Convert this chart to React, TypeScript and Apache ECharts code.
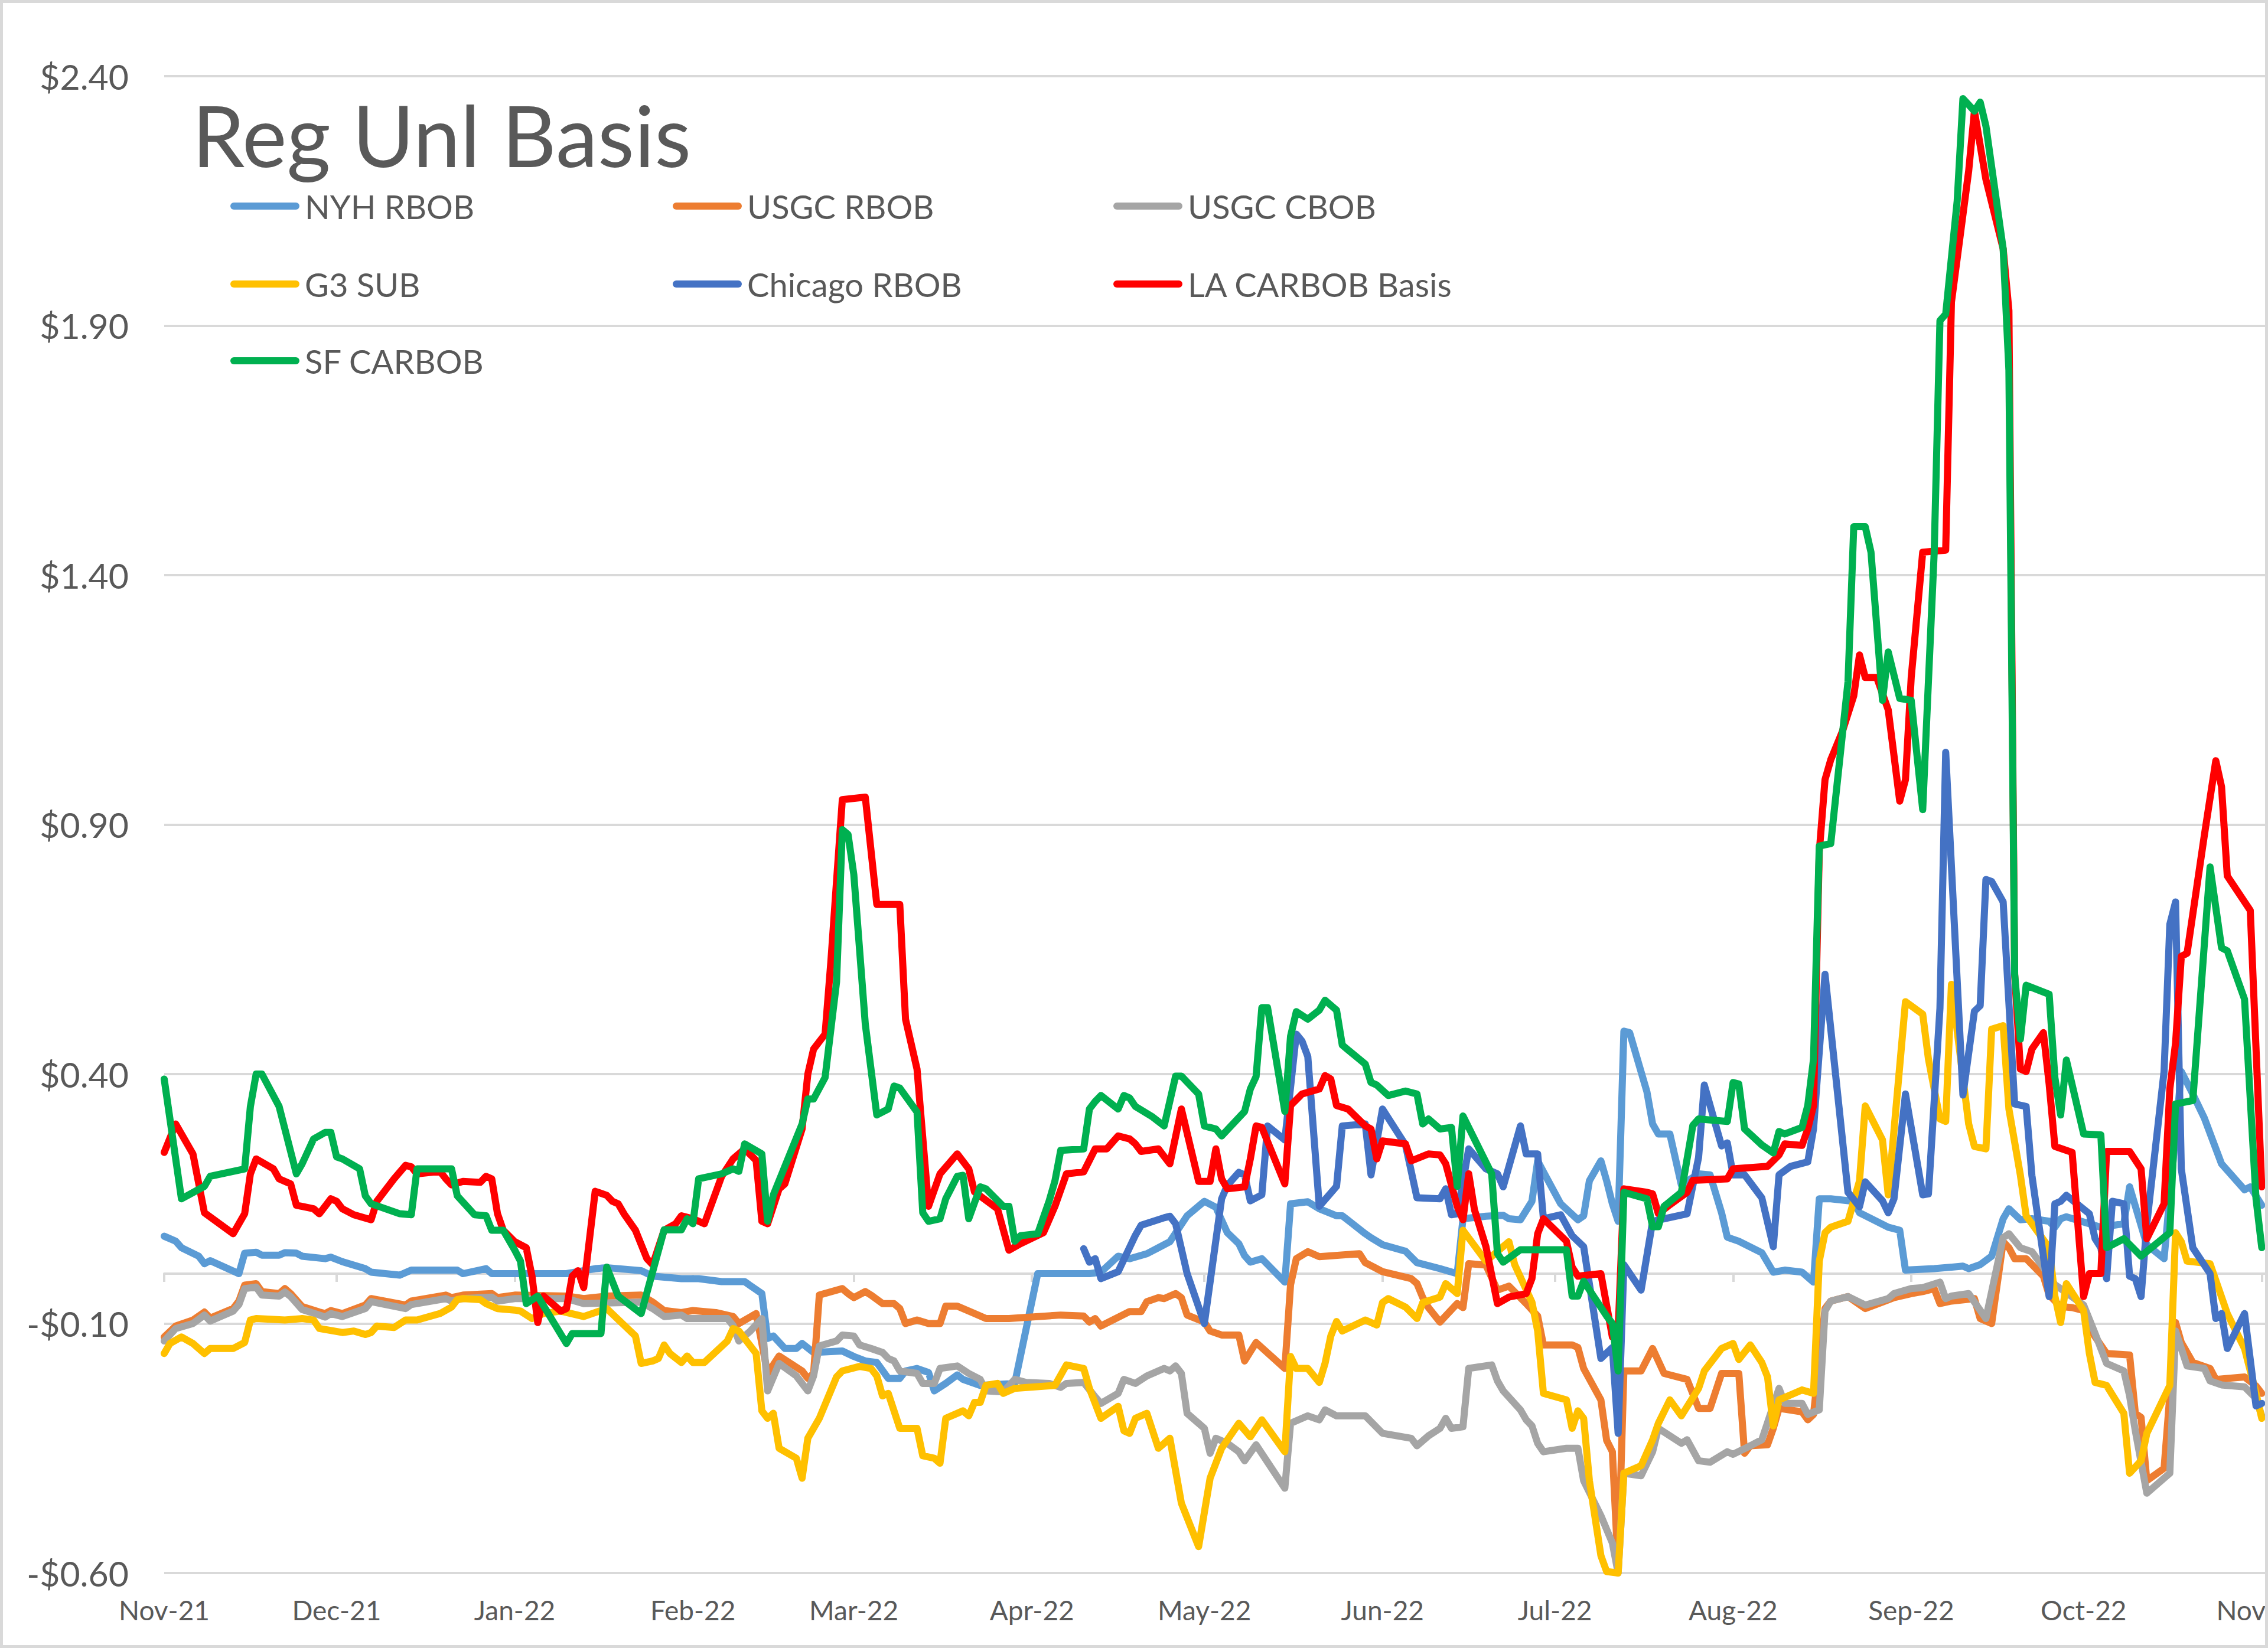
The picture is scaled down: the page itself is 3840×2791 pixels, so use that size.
import React, { useEffect, useRef } from "react";
import * as echarts from "echarts";

type Pt = [string, number];

const TITLE = "Reg Unl Basis";
const MONTH_NAMES = ["Jan", "Feb", "Mar", "Apr", "May", "Jun", "Jul", "Aug", "Sep", "Oct", "Nov", "Dec"];
const MONTH_TICKS = [
  "2021-11-01", "2021-12-01", "2022-01-01", "2022-02-01", "2022-03-01", "2022-04-01", "2022-05-01",
  "2022-06-01", "2022-07-01", "2022-08-01", "2022-09-01", "2022-10-01", "2022-11-01",
];
const X_MIN = "2021-11-01";
const X_MAX = "2022-11-10";
const Y_MIN = -0.6;
const Y_MAX = 2.4;
const Y_STEP = 0.5;

const nyhRbob: Pt[] = [
  ["2021-11-01", 0.075], ["2021-11-03", 0.065], ["2021-11-04", 0.052], ["2021-11-07", 0.035], ["2021-11-08", 0.02],
  ["2021-11-09", 0.026], ["2021-11-14", 0.0], ["2021-11-15", 0.041], ["2021-11-17", 0.043], ["2021-11-18", 0.037],
  ["2021-11-21", 0.037], ["2021-11-22", 0.042], ["2021-11-24", 0.041], ["2021-11-25", 0.035], ["2021-11-29", 0.03],
  ["2021-11-30", 0.033], ["2021-12-02", 0.024], ["2021-12-06", 0.01], ["2021-12-07", 0.003], ["2021-12-12", -0.003],
  ["2021-12-14", 0.007], ["2021-12-22", 0.007], ["2021-12-23", 0.0], ["2021-12-27", 0.01], ["2021-12-28", 0.0],
  ["2022-01-10", 0.0], ["2022-01-15", 0.01], ["2022-01-17", 0.012], ["2022-01-20", 0.009], ["2022-01-23", 0.006],
  ["2022-01-25", -0.005], ["2022-01-30", -0.01], ["2022-02-02", -0.01], ["2022-02-06", -0.016], ["2022-02-10", -0.016],
  ["2022-02-13", -0.04], ["2022-02-14", -0.13], ["2022-02-15", -0.125], ["2022-02-17", -0.15], ["2022-02-19", -0.15],
  ["2022-02-20", -0.14], ["2022-02-22", -0.158], ["2022-02-27", -0.155], ["2022-03-01", -0.166], ["2022-03-03", -0.175],
  ["2022-03-05", -0.178], ["2022-03-07", -0.21], ["2022-03-09", -0.21], ["2022-03-10", -0.195], ["2022-03-12", -0.19],
  ["2022-03-14", -0.198], ["2022-03-15", -0.235], ["2022-03-17", -0.22], ["2022-03-19", -0.203], ["2022-03-20", -0.212],
  ["2022-03-23", -0.224], ["2022-03-29", -0.22], ["2022-04-02", 0.0], ["2022-04-11", 0.0], ["2022-04-13", 0.003],
  ["2022-04-16", 0.035], ["2022-04-18", 0.03], ["2022-04-21", 0.04], ["2022-04-23", 0.052], ["2022-04-25", 0.064],
  ["2022-04-28", 0.116], ["2022-05-01", 0.145], ["2022-05-03", 0.133], ["2022-05-05", 0.082], ["2022-05-07", 0.06],
  ["2022-05-08", 0.036], ["2022-05-09", 0.023], ["2022-05-11", 0.03], ["2022-05-15", -0.017], ["2022-05-16", 0.14],
  ["2022-05-19", 0.144], ["2022-05-21", 0.13], ["2022-05-24", 0.116], ["2022-05-25", 0.116], ["2022-05-29", 0.08],
  ["2022-05-30", 0.072], ["2022-06-01", 0.058], ["2022-06-05", 0.045], ["2022-06-07", 0.022], ["2022-06-11", 0.01],
  ["2022-06-14", 0.0], ["2022-06-15", 0.11], ["2022-06-19", 0.115], ["2022-06-22", 0.117], ["2022-06-23", 0.11],
  ["2022-06-25", 0.108], ["2022-06-27", 0.145], ["2022-06-28", 0.226], ["2022-06-29", 0.204], ["2022-07-02", 0.14],
  ["2022-07-05", 0.108], ["2022-07-06", 0.116], ["2022-07-07", 0.186], ["2022-07-09", 0.226], ["2022-07-10", 0.186],
  ["2022-07-11", 0.14], ["2022-07-12", 0.105], ["2022-07-13", 0.486], ["2022-07-14", 0.483], ["2022-07-17", 0.365],
  ["2022-07-18", 0.3], ["2022-07-19", 0.28], ["2022-07-21", 0.28], ["2022-07-23", 0.178], ["2022-07-26", 0.2],
  ["2022-07-28", 0.198], ["2022-07-30", 0.122], ["2022-07-31", 0.073], ["2022-08-02", 0.065], ["2022-08-06", 0.042],
  ["2022-08-08", 0.003], ["2022-08-10", 0.007], ["2022-08-13", 0.003], ["2022-08-15", -0.017], ["2022-08-16", 0.15],
  ["2022-08-18", 0.15], ["2022-08-22", 0.145], ["2022-08-23", 0.122], ["2022-08-28", 0.093], ["2022-08-30", 0.087],
  ["2022-08-31", 0.007], ["2022-09-05", 0.01], ["2022-09-10", 0.015], ["2022-09-11", 0.01], ["2022-09-13", 0.018],
  ["2022-09-15", 0.035], ["2022-09-17", 0.11], ["2022-09-18", 0.13], ["2022-09-20", 0.108], ["2022-09-22", 0.11],
  ["2022-09-25", 0.105], ["2022-09-26", 0.093], ["2022-09-27", 0.11], ["2022-09-28", 0.114], ["2022-10-02", 0.1],
  ["2022-10-04", 0.093], ["2022-10-08", 0.1], ["2022-10-09", 0.174], ["2022-10-12", 0.058], ["2022-10-15", 0.03],
  ["2022-10-18", 0.405], ["2022-10-20", 0.36], ["2022-10-22", 0.312], ["2022-10-25", 0.22], ["2022-10-29", 0.168],
  ["2022-10-30", 0.174], ["2022-11-01", 0.137],
];

const usgcRbob: Pt[] = [
  ["2021-11-01", -0.127], ["2021-11-03", -0.105], ["2021-11-06", -0.093], ["2021-11-08", -0.077], ["2021-11-09", -0.089],
  ["2021-11-13", -0.07], ["2021-11-14", -0.055], ["2021-11-15", -0.023], ["2021-11-17", -0.02], ["2021-11-18", -0.036],
  ["2021-11-21", -0.04], ["2021-11-22", -0.03], ["2021-11-23", -0.04], ["2021-11-25", -0.066], ["2021-11-28", -0.077],
  ["2021-11-29", -0.08], ["2021-11-30", -0.074], ["2021-12-02", -0.08], ["2021-12-06", -0.063], ["2021-12-07", -0.05],
  ["2021-12-13", -0.063], ["2021-12-14", -0.055], ["2021-12-20", -0.043], ["2021-12-21", -0.048], ["2021-12-23", -0.043],
  ["2021-12-28", -0.04], ["2021-12-29", -0.048], ["2022-01-01", -0.043], ["2022-01-10", -0.045], ["2022-01-13", -0.05],
  ["2022-01-17", -0.045], ["2022-01-23", -0.043], ["2022-01-25", -0.057], ["2022-01-27", -0.074], ["2022-01-30", -0.078],
  ["2022-02-01", -0.074], ["2022-02-05", -0.078], ["2022-02-08", -0.086], ["2022-02-09", -0.1], ["2022-02-12", -0.08],
  ["2022-02-14", -0.2], ["2022-02-16", -0.165], ["2022-02-20", -0.195], ["2022-02-21", -0.21], ["2022-02-22", -0.2],
  ["2022-02-23", -0.043], ["2022-02-27", -0.03], ["2022-02-28", -0.04], ["2022-03-01", -0.048], ["2022-03-03", -0.036],
  ["2022-03-04", -0.043], ["2022-03-06", -0.06], ["2022-03-08", -0.06], ["2022-03-09", -0.07], ["2022-03-10", -0.1],
  ["2022-03-12", -0.093], ["2022-03-14", -0.1], ["2022-03-16", -0.1], ["2022-03-17", -0.065], ["2022-03-19", -0.065],
  ["2022-03-22", -0.08], ["2022-03-24", -0.09], ["2022-03-28", -0.09], ["2022-04-06", -0.083], ["2022-04-10", -0.085],
  ["2022-04-11", -0.097], ["2022-04-12", -0.09], ["2022-04-13", -0.105], ["2022-04-18", -0.076], ["2022-04-20", -0.076],
  ["2022-04-21", -0.056], ["2022-04-23", -0.048], ["2022-04-24", -0.05], ["2022-04-26", -0.04], ["2022-04-27", -0.048],
  ["2022-04-28", -0.083], ["2022-05-01", -0.097], ["2022-05-02", -0.115], ["2022-05-04", -0.123], ["2022-05-07", -0.123],
  ["2022-05-08", -0.175], ["2022-05-10", -0.138], ["2022-05-15", -0.19], ["2022-05-16", -0.022], ["2022-05-17", 0.03],
  ["2022-05-19", 0.044], ["2022-05-21", 0.034], ["2022-05-28", 0.04], ["2022-05-29", 0.022], ["2022-06-01", 0.004],
  ["2022-06-06", -0.01], ["2022-06-07", -0.02], ["2022-06-08", -0.048], ["2022-06-09", -0.068], ["2022-06-11", -0.097],
  ["2022-06-14", -0.06], ["2022-06-15", -0.068], ["2022-06-16", 0.02], ["2022-06-19", 0.017], ["2022-06-21", -0.033],
  ["2022-06-23", -0.025], ["2022-06-26", -0.06], ["2022-06-28", -0.085], ["2022-06-29", -0.143], ["2022-07-04", -0.143],
  ["2022-07-05", -0.148], ["2022-07-06", -0.19], ["2022-07-09", -0.253], ["2022-07-10", -0.334], ["2022-07-11", -0.357],
  ["2022-07-12", -0.59], ["2022-07-13", -0.195], ["2022-07-16", -0.195], ["2022-07-18", -0.15], ["2022-07-20", -0.2],
  ["2022-07-24", -0.212], ["2022-07-26", -0.27], ["2022-07-28", -0.27], ["2022-07-30", -0.2], ["2022-08-02", -0.2],
  ["2022-08-03", -0.36], ["2022-08-04", -0.345], ["2022-08-07", -0.343], ["2022-08-08", -0.31], ["2022-08-09", -0.27],
  ["2022-08-13", -0.277], ["2022-08-14", -0.293], ["2022-08-15", -0.282], ["2022-08-17", -0.07], ["2022-08-18", -0.055],
  ["2022-08-21", -0.046], ["2022-08-24", -0.07], ["2022-08-27", -0.057], ["2022-08-29", -0.048], ["2022-09-01", -0.04],
  ["2022-09-03", -0.036], ["2022-09-05", -0.03], ["2022-09-06", -0.06], ["2022-09-08", -0.055], ["2022-09-12", -0.05],
  ["2022-09-13", -0.09], ["2022-09-15", -0.1], ["2022-09-17", 0.064], ["2022-09-18", 0.052], ["2022-09-19", 0.03],
  ["2022-09-21", 0.03], ["2022-09-24", -0.005], ["2022-09-25", -0.043], ["2022-09-27", -0.066], ["2022-09-29", -0.068],
  ["2022-10-01", -0.074], ["2022-10-02", -0.11], ["2022-10-05", -0.16], ["2022-10-09", -0.163], ["2022-10-10", -0.28],
  ["2022-10-11", -0.288], ["2022-10-12", -0.415], ["2022-10-15", -0.39], ["2022-10-17", -0.098], ["2022-10-18", -0.138],
  ["2022-10-20", -0.178], ["2022-10-23", -0.19], ["2022-10-24", -0.212], ["2022-10-29", -0.207], ["2022-10-31", -0.225],
  ["2022-11-01", -0.24],
];

const usgcCbob: Pt[] = [
  ["2021-11-01", -0.135], ["2021-11-03", -0.11], ["2021-11-06", -0.1], ["2021-11-08", -0.083], ["2021-11-09", -0.095],
  ["2021-11-13", -0.075], ["2021-11-14", -0.062], ["2021-11-15", -0.03], ["2021-11-17", -0.027], ["2021-11-18", -0.043],
  ["2021-11-21", -0.045], ["2021-11-22", -0.037], ["2021-11-23", -0.046], ["2021-11-25", -0.072], ["2021-11-28", -0.083],
  ["2021-11-29", -0.087], ["2021-11-30", -0.08], ["2021-12-02", -0.086], ["2021-12-06", -0.07], ["2021-12-07", -0.056],
  ["2021-12-13", -0.07], ["2021-12-14", -0.062], ["2021-12-20", -0.05], ["2021-12-21", -0.055], ["2021-12-23", -0.05],
  ["2021-12-28", -0.047], ["2021-12-29", -0.055], ["2022-01-01", -0.05], ["2022-01-10", -0.05], ["2022-01-13", -0.06],
  ["2022-01-23", -0.057], ["2022-01-25", -0.07], ["2022-01-27", -0.086], ["2022-01-30", -0.083], ["2022-01-31", -0.09],
  ["2022-02-07", -0.09], ["2022-02-08", -0.104], ["2022-02-09", -0.135], ["2022-02-11", -0.115], ["2022-02-13", -0.09],
  ["2022-02-14", -0.235], ["2022-02-16", -0.18], ["2022-02-19", -0.205], ["2022-02-21", -0.235], ["2022-02-22", -0.205],
  ["2022-02-23", -0.145], ["2022-02-26", -0.135], ["2022-02-27", -0.123], ["2022-03-01", -0.125], ["2022-03-02", -0.143],
  ["2022-03-04", -0.15], ["2022-03-06", -0.158], ["2022-03-07", -0.17], ["2022-03-08", -0.175], ["2022-03-09", -0.195],
  ["2022-03-12", -0.2], ["2022-03-13", -0.22], ["2022-03-15", -0.22], ["2022-03-16", -0.19], ["2022-03-19", -0.185],
  ["2022-03-21", -0.2], ["2022-03-23", -0.212], ["2022-03-24", -0.235], ["2022-03-27", -0.237], ["2022-03-29", -0.212],
  ["2022-03-31", -0.218], ["2022-04-04", -0.22], ["2022-04-06", -0.228], ["2022-04-07", -0.22], ["2022-04-10", -0.218],
  ["2022-04-12", -0.247], ["2022-04-13", -0.26], ["2022-04-16", -0.24], ["2022-04-17", -0.212], ["2022-04-19", -0.22],
  ["2022-04-21", -0.205], ["2022-04-24", -0.19], ["2022-04-25", -0.195], ["2022-04-26", -0.185], ["2022-04-27", -0.2],
  ["2022-04-28", -0.28], ["2022-05-01", -0.31], ["2022-05-02", -0.36], ["2022-05-03", -0.33], ["2022-05-05", -0.34],
  ["2022-05-07", -0.357], ["2022-05-08", -0.375], ["2022-05-10", -0.343], ["2022-05-15", -0.43], ["2022-05-16", -0.3],
  ["2022-05-19", -0.285], ["2022-05-21", -0.293], ["2022-05-22", -0.273], ["2022-05-24", -0.285], ["2022-05-29", -0.285],
  ["2022-06-01", -0.32], ["2022-06-06", -0.33], ["2022-06-07", -0.345], ["2022-06-09", -0.325], ["2022-06-11", -0.31],
  ["2022-06-12", -0.29], ["2022-06-13", -0.31], ["2022-06-15", -0.307], ["2022-06-16", -0.19], ["2022-06-20", -0.183],
  ["2022-06-21", -0.215], ["2022-06-22", -0.235], ["2022-06-25", -0.273], ["2022-06-26", -0.293], ["2022-06-27", -0.305],
  ["2022-06-28", -0.34], ["2022-06-29", -0.357], ["2022-07-03", -0.35], ["2022-07-05", -0.35], ["2022-07-06", -0.415],
  ["2022-07-09", -0.485], ["2022-07-11", -0.54], ["2022-07-12", -0.6], ["2022-07-13", -0.4], ["2022-07-16", -0.405],
  ["2022-07-18", -0.357], ["2022-07-19", -0.31], ["2022-07-23", -0.34], ["2022-07-24", -0.333], ["2022-07-26", -0.375],
  ["2022-07-28", -0.378], ["2022-07-31", -0.357], ["2022-08-01", -0.362], ["2022-08-04", -0.345], ["2022-08-06", -0.333],
  ["2022-08-09", -0.23], ["2022-08-10", -0.26], ["2022-08-13", -0.26], ["2022-08-14", -0.282], ["2022-08-16", -0.273],
  ["2022-08-17", -0.075], ["2022-08-18", -0.055], ["2022-08-21", -0.046], ["2022-08-24", -0.063], ["2022-08-28", -0.05],
  ["2022-08-29", -0.04], ["2022-09-01", -0.03], ["2022-09-03", -0.028], ["2022-09-06", -0.017], ["2022-09-07", -0.05],
  ["2022-09-08", -0.045], ["2022-09-11", -0.04], ["2022-09-12", -0.057], ["2022-09-14", -0.09], ["2022-09-17", 0.072],
  ["2022-09-18", 0.08], ["2022-09-20", 0.052], ["2022-09-22", 0.044], ["2022-09-24", 0.012], ["2022-09-26", -0.022],
  ["2022-10-01", -0.063], ["2022-10-03", -0.12], ["2022-10-05", -0.18], ["2022-10-08", -0.195], ["2022-10-09", -0.245],
  ["2022-10-10", -0.315], ["2022-10-12", -0.44], ["2022-10-16", -0.4], ["2022-10-17", -0.115], ["2022-10-18", -0.15],
  ["2022-10-19", -0.185], ["2022-10-22", -0.19], ["2022-10-23", -0.215], ["2022-10-25", -0.223], ["2022-10-29", -0.227],
  ["2022-10-31", -0.25], ["2022-11-01", -0.285],
];

const g3Sub: Pt[] = [
  ["2021-11-01", -0.16], ["2021-11-02", -0.14], ["2021-11-04", -0.127], ["2021-11-06", -0.14], ["2021-11-08", -0.16],
  ["2021-11-09", -0.15], ["2021-11-13", -0.15], ["2021-11-15", -0.138], ["2021-11-16", -0.093], ["2021-11-17", -0.09],
  ["2021-11-22", -0.093], ["2021-11-25", -0.09], ["2021-11-27", -0.093], ["2021-11-28", -0.11], ["2021-12-02", -0.118],
  ["2021-12-04", -0.115], ["2021-12-06", -0.122], ["2021-12-07", -0.118], ["2021-12-08", -0.105], ["2021-12-11", -0.108],
  ["2021-12-13", -0.093], ["2021-12-15", -0.093], ["2021-12-19", -0.08], ["2021-12-21", -0.067], ["2021-12-22", -0.052],
  ["2021-12-23", -0.05], ["2021-12-26", -0.052], ["2021-12-27", -0.06], ["2021-12-29", -0.07], ["2022-01-01", -0.073],
  ["2022-01-02", -0.075], ["2022-01-04", -0.09], ["2022-01-06", -0.08], ["2022-01-09", -0.075], ["2022-01-13", -0.086],
  ["2022-01-15", -0.078], ["2022-01-17", -0.07], ["2022-01-20", -0.103], ["2022-01-22", -0.125], ["2022-01-23", -0.18],
  ["2022-01-25", -0.175], ["2022-01-26", -0.17], ["2022-01-27", -0.143], ["2022-01-28", -0.16], ["2022-01-30", -0.178],
  ["2022-01-31", -0.165], ["2022-02-01", -0.178], ["2022-02-03", -0.178], ["2022-02-07", -0.135], ["2022-02-08", -0.11],
  ["2022-02-09", -0.115], ["2022-02-10", -0.13], ["2022-02-12", -0.16], ["2022-02-13", -0.275], ["2022-02-14", -0.29],
  ["2022-02-15", -0.28], ["2022-02-16", -0.35], ["2022-02-19", -0.37], ["2022-02-20", -0.41], ["2022-02-21", -0.33],
  ["2022-02-23", -0.29], ["2022-02-26", -0.207], ["2022-02-27", -0.195], ["2022-03-02", -0.186], ["2022-03-04", -0.19],
  ["2022-03-05", -0.205], ["2022-03-06", -0.245], ["2022-03-07", -0.24], ["2022-03-09", -0.31], ["2022-03-12", -0.31],
  ["2022-03-13", -0.365], ["2022-03-15", -0.37], ["2022-03-16", -0.38], ["2022-03-17", -0.29], ["2022-03-20", -0.275],
  ["2022-03-21", -0.285], ["2022-03-22", -0.258], ["2022-03-23", -0.258], ["2022-03-24", -0.224], ["2022-03-26", -0.22],
  ["2022-03-27", -0.24], ["2022-03-29", -0.23], ["2022-04-05", -0.224], ["2022-04-07", -0.183], ["2022-04-10", -0.19],
  ["2022-04-11", -0.23], ["2022-04-13", -0.29], ["2022-04-16", -0.266], ["2022-04-17", -0.315], ["2022-04-18", -0.32],
  ["2022-04-19", -0.29], ["2022-04-21", -0.28], ["2022-04-23", -0.35], ["2022-04-25", -0.33], ["2022-04-27", -0.46],
  ["2022-04-30", -0.547], ["2022-05-02", -0.41], ["2022-05-04", -0.35], ["2022-05-07", -0.3], ["2022-05-09", -0.327],
  ["2022-05-11", -0.293], ["2022-05-15", -0.357], ["2022-05-16", -0.166], ["2022-05-17", -0.19], ["2022-05-19", -0.19],
  ["2022-05-21", -0.218], ["2022-05-22", -0.18], ["2022-05-23", -0.125], ["2022-05-24", -0.096], ["2022-05-25", -0.115],
  ["2022-05-29", -0.093], ["2022-05-31", -0.103], ["2022-06-01", -0.058], ["2022-06-02", -0.05], ["2022-06-05", -0.067],
  ["2022-06-07", -0.09], ["2022-06-08", -0.058], ["2022-06-11", -0.047], ["2022-06-12", -0.02], ["2022-06-14", -0.04],
  ["2022-06-15", 0.087], ["2022-06-19", 0.025], ["2022-06-23", 0.064], ["2022-06-24", 0.018], ["2022-06-27", -0.057],
  ["2022-06-28", -0.115], ["2022-06-29", -0.24], ["2022-07-03", -0.253], ["2022-07-04", -0.31], ["2022-07-05", -0.275],
  ["2022-07-06", -0.29], ["2022-07-07", -0.415], ["2022-07-09", -0.565], ["2022-07-10", -0.597], ["2022-07-12", -0.6],
  ["2022-07-13", -0.4], ["2022-07-16", -0.385], ["2022-07-18", -0.333], ["2022-07-19", -0.3], ["2022-07-21", -0.253],
  ["2022-07-23", -0.285], ["2022-07-26", -0.23], ["2022-07-27", -0.195], ["2022-07-30", -0.15], ["2022-08-01", -0.14],
  ["2022-08-02", -0.172], ["2022-08-04", -0.143], ["2022-08-06", -0.178], ["2022-08-07", -0.207], ["2022-08-08", -0.305],
  ["2022-08-09", -0.253], ["2022-08-13", -0.233], ["2022-08-15", -0.24], ["2022-08-16", 0.025], ["2022-08-17", 0.082],
  ["2022-08-18", 0.093], ["2022-08-21", 0.105], ["2022-08-23", 0.186], ["2022-08-24", 0.336], ["2022-08-27", 0.268],
  ["2022-08-28", 0.158], ["2022-08-31", 0.545], ["2022-09-03", 0.52], ["2022-09-04", 0.43], ["2022-09-06", 0.31],
  ["2022-09-07", 0.305], ["2022-09-08", 0.58], ["2022-09-10", 0.393], ["2022-09-11", 0.3], ["2022-09-12", 0.255],
  ["2022-09-14", 0.25], ["2022-09-15", 0.49], ["2022-09-17", 0.497], ["2022-09-18", 0.33], ["2022-09-20", 0.197],
  ["2022-09-21", 0.116], ["2022-09-25", 0.052], ["2022-09-26", -0.045], ["2022-09-27", -0.098], ["2022-09-28", -0.02],
  ["2022-10-01", -0.074], ["2022-10-02", -0.16], ["2022-10-03", -0.218], ["2022-10-05", -0.224], ["2022-10-08", -0.28],
  ["2022-10-09", -0.4], ["2022-10-11", -0.375], ["2022-10-12", -0.32], ["2022-10-16", -0.224], ["2022-10-17", 0.082],
  ["2022-10-18", 0.064], ["2022-10-19", 0.025], ["2022-10-23", 0.02], ["2022-10-26", -0.08], ["2022-10-29", -0.15],
  ["2022-10-31", -0.24], ["2022-11-01", -0.29],
];

const chicagoRbob: Pt[] = [
  ["2022-04-10", 0.05], ["2022-04-11", 0.023], ["2022-04-12", 0.03], ["2022-04-13", -0.01], ["2022-04-16", 0.004],
  ["2022-04-19", 0.077], ["2022-04-20", 0.097], ["2022-04-24", 0.112], ["2022-04-25", 0.115], ["2022-04-26", 0.1],
  ["2022-04-28", 0.0], ["2022-05-01", -0.1], ["2022-05-04", 0.15], ["2022-05-05", 0.177], ["2022-05-07", 0.203],
  ["2022-05-08", 0.198], ["2022-05-09", 0.146], ["2022-05-11", 0.158], ["2022-05-12", 0.296], ["2022-05-15", 0.268],
  ["2022-05-17", 0.48], ["2022-05-18", 0.466], ["2022-05-19", 0.435], ["2022-05-21", 0.135], ["2022-05-24", 0.175],
  ["2022-05-25", 0.296], ["2022-05-29", 0.3], ["2022-05-30", 0.198], ["2022-06-01", 0.33], ["2022-06-05", 0.258],
  ["2022-06-07", 0.152], ["2022-06-11", 0.15], ["2022-06-12", 0.17], ["2022-06-13", 0.118], ["2022-06-14", 0.12],
  ["2022-06-16", 0.25], ["2022-06-19", 0.21], ["2022-06-21", 0.2], ["2022-06-22", 0.174], ["2022-06-25", 0.296],
  ["2022-06-26", 0.24], ["2022-06-28", 0.24], ["2022-06-29", 0.11], ["2022-07-02", 0.118], ["2022-07-04", 0.076],
  ["2022-07-05", 0.065], ["2022-07-06", 0.054], ["2022-07-09", -0.17], ["2022-07-11", -0.148], ["2022-07-12", -0.32],
  ["2022-07-13", 0.018], ["2022-07-16", -0.033], ["2022-07-18", 0.105], ["2022-07-24", 0.12], ["2022-07-26", 0.233],
  ["2022-07-27", 0.378], ["2022-07-30", 0.256], ["2022-07-31", 0.262], ["2022-08-01", 0.198], ["2022-08-03", 0.198],
  ["2022-08-06", 0.152], ["2022-08-08", 0.054], ["2022-08-09", 0.198], ["2022-08-11", 0.215], ["2022-08-14", 0.224],
  ["2022-08-15", 0.29], ["2022-08-17", 0.6], ["2022-08-21", 0.163], ["2022-08-23", 0.134], ["2022-08-24", 0.184],
  ["2022-08-27", 0.146], ["2022-08-28", 0.122], ["2022-08-29", 0.15], ["2022-08-31", 0.36], ["2022-09-03", 0.158],
  ["2022-09-04", 0.16], ["2022-09-06", 0.532], ["2022-09-07", 1.045], ["2022-09-10", 0.358], ["2022-09-12", 0.526],
  ["2022-09-13", 0.537], ["2022-09-14", 0.79], ["2022-09-15", 0.786], ["2022-09-17", 0.745], ["2022-09-19", 0.34],
  ["2022-09-21", 0.335], ["2022-09-22", 0.197], ["2022-09-25", -0.046], ["2022-09-26", 0.14], ["2022-09-27", 0.145],
  ["2022-09-28", 0.157], ["2022-10-02", 0.12], ["2022-10-03", 0.07], ["2022-10-04", 0.052], ["2022-10-05", -0.01],
  ["2022-10-06", 0.145], ["2022-10-08", 0.14], ["2022-10-09", -0.005], ["2022-10-10", -0.01], ["2022-10-11", -0.046],
  ["2022-10-12", 0.1], ["2022-10-15", 0.405], ["2022-10-16", 0.7], ["2022-10-17", 0.745], ["2022-10-18", 0.21],
  ["2022-10-20", 0.052], ["2022-10-23", 0.0], ["2022-10-24", -0.09], ["2022-10-25", -0.08], ["2022-10-26", -0.15],
  ["2022-10-29", -0.08], ["2022-10-31", -0.265], ["2022-11-01", -0.26],
];

const laCarbob: Pt[] = [
  ["2021-11-01", 0.243], ["2021-11-03", 0.3], ["2021-11-06", 0.24], ["2021-11-08", 0.122], ["2021-11-13", 0.08],
  ["2021-11-15", 0.12], ["2021-11-16", 0.2], ["2021-11-17", 0.23], ["2021-11-20", 0.21], ["2021-11-21", 0.19],
  ["2021-11-23", 0.18], ["2021-11-24", 0.137], ["2021-11-27", 0.13], ["2021-11-28", 0.12], ["2021-11-30", 0.15],
  ["2021-12-01", 0.145], ["2021-12-02", 0.13], ["2021-12-04", 0.118], ["2021-12-07", 0.108], ["2021-12-08", 0.145],
  ["2021-12-11", 0.19], ["2021-12-13", 0.217], ["2021-12-14", 0.214], ["2021-12-15", 0.2], ["2021-12-19", 0.205],
  ["2021-12-20", 0.19], ["2021-12-21", 0.178], ["2021-12-23", 0.185], ["2021-12-26", 0.183], ["2021-12-27", 0.195],
  ["2021-12-28", 0.19], ["2021-12-29", 0.12], ["2021-12-30", 0.087], ["2022-01-01", 0.064], ["2022-01-03", 0.052],
  ["2022-01-04", -0.005], ["2022-01-05", -0.098], ["2022-01-06", -0.045], ["2022-01-09", -0.075], ["2022-01-10", -0.07],
  ["2022-01-11", -0.005], ["2022-01-12", 0.006], ["2022-01-13", -0.028], ["2022-01-15", 0.165], ["2022-01-17", 0.157],
  ["2022-01-18", 0.145], ["2022-01-19", 0.14], ["2022-01-20", 0.12], ["2022-01-22", 0.087], ["2022-01-24", 0.03],
  ["2022-01-25", 0.018], ["2022-01-27", 0.087], ["2022-01-29", 0.1], ["2022-01-30", 0.116], ["2022-02-01", 0.11],
  ["2022-02-03", 0.1], ["2022-02-06", 0.195], ["2022-02-08", 0.23], ["2022-02-10", 0.25], ["2022-02-12", 0.227],
  ["2022-02-13", 0.105], ["2022-02-14", 0.1], ["2022-02-16", 0.17], ["2022-02-17", 0.18], ["2022-02-20", 0.29],
  ["2022-02-21", 0.4], ["2022-02-22", 0.45], ["2022-02-24", 0.48], ["2022-02-25", 0.624], ["2022-02-27", 0.95],
  ["2022-03-03", 0.955], ["2022-03-05", 0.74], ["2022-03-09", 0.74], ["2022-03-10", 0.51], ["2022-03-12", 0.41],
  ["2022-03-14", 0.135], ["2022-03-16", 0.2], ["2022-03-19", 0.24], ["2022-03-21", 0.21], ["2022-03-22", 0.164],
  ["2022-03-26", 0.13], ["2022-03-28", 0.047], ["2022-03-30", 0.06], ["2022-04-03", 0.082], ["2022-04-05", 0.135],
  ["2022-04-07", 0.2], ["2022-04-10", 0.204], ["2022-04-12", 0.25], ["2022-04-14", 0.25], ["2022-04-16", 0.276],
  ["2022-04-18", 0.27], ["2022-04-19", 0.26], ["2022-04-20", 0.245], ["2022-04-23", 0.25], ["2022-04-25", 0.22],
  ["2022-04-27", 0.33], ["2022-04-30", 0.185], ["2022-05-02", 0.185], ["2022-05-03", 0.25], ["2022-05-04", 0.19],
  ["2022-05-05", 0.17], ["2022-05-08", 0.174], ["2022-05-09", 0.23], ["2022-05-10", 0.296], ["2022-05-11", 0.293],
  ["2022-05-15", 0.18], ["2022-05-16", 0.337], ["2022-05-18", 0.36], ["2022-05-21", 0.37], ["2022-05-22", 0.397],
  ["2022-05-23", 0.39], ["2022-05-24", 0.337], ["2022-05-26", 0.33], ["2022-05-29", 0.296], ["2022-05-30", 0.29],
  ["2022-05-31", 0.23], ["2022-06-01", 0.266], ["2022-06-05", 0.26], ["2022-06-06", 0.226], ["2022-06-09", 0.24],
  ["2022-06-11", 0.238], ["2022-06-12", 0.22], ["2022-06-14", 0.135], ["2022-06-15", 0.108], ["2022-06-16", 0.2],
  ["2022-06-17", 0.128], ["2022-06-19", 0.054], ["2022-06-21", -0.06], ["2022-06-23", -0.047], ["2022-06-26", -0.04],
  ["2022-06-27", -0.01], ["2022-06-28", 0.08], ["2022-06-29", 0.11], ["2022-07-03", 0.065], ["2022-07-04", 0.013],
  ["2022-07-05", -0.005], ["2022-07-09", 0.0], ["2022-07-11", -0.127], ["2022-07-12", -0.115], ["2022-07-13", 0.17],
  ["2022-07-17", 0.163], ["2022-07-18", 0.16], ["2022-07-19", 0.12], ["2022-07-21", 0.138], ["2022-07-24", 0.163],
  ["2022-07-25", 0.187], ["2022-07-31", 0.19], ["2022-08-01", 0.21], ["2022-08-07", 0.215], ["2022-08-09", 0.238],
  ["2022-08-10", 0.26], ["2022-08-13", 0.257], ["2022-08-14", 0.29], ["2022-08-15", 0.337], ["2022-08-16", 0.845],
  ["2022-08-17", 0.99], ["2022-08-18", 1.03], ["2022-08-20", 1.086], ["2022-08-22", 1.158], ["2022-08-23", 1.24],
  ["2022-08-24", 1.195], ["2022-08-26", 1.195], ["2022-08-28", 1.13], ["2022-08-30", 0.947], ["2022-08-31", 0.99],
  ["2022-09-01", 1.195], ["2022-09-03", 1.446], ["2022-09-07", 1.45], ["2022-09-08", 1.947], ["2022-09-11", 2.21],
  ["2022-09-12", 2.33], ["2022-09-14", 2.193], ["2022-09-17", 2.054], ["2022-09-18", 1.93], ["2022-09-19", 0.6],
  ["2022-09-20", 0.41], ["2022-09-21", 0.405], ["2022-09-22", 0.45], ["2022-09-24", 0.483], ["2022-09-25", 0.38],
  ["2022-09-26", 0.255], ["2022-09-29", 0.243], ["2022-10-01", -0.046], ["2022-10-02", 0.0], ["2022-10-04", 0.0],
  ["2022-10-05", 0.245], ["2022-10-09", 0.245], ["2022-10-11", 0.21], ["2022-10-12", 0.07], ["2022-10-15", 0.14],
  ["2022-10-16", 0.37], ["2022-10-17", 0.462], ["2022-10-18", 0.636], ["2022-10-19", 0.642], ["2022-10-22", 0.878],
  ["2022-10-24", 1.028], ["2022-10-25", 0.976], ["2022-10-26", 0.797], ["2022-10-30", 0.728], ["2022-11-01", 0.174],
];

const sfCarbob: Pt[] = [
  ["2021-11-01", 0.39], ["2021-11-04", 0.15], ["2021-11-08", 0.175], ["2021-11-09", 0.195], ["2021-11-15", 0.21],
  ["2021-11-16", 0.335], ["2021-11-17", 0.4], ["2021-11-18", 0.4], ["2021-11-21", 0.335], ["2021-11-24", 0.2],
  ["2021-11-25", 0.22], ["2021-11-27", 0.27], ["2021-11-29", 0.283], ["2021-11-30", 0.283], ["2021-12-01", 0.234],
  ["2021-12-02", 0.23], ["2021-12-05", 0.21], ["2021-12-06", 0.156], ["2021-12-07", 0.14], ["2021-12-12", 0.12],
  ["2021-12-14", 0.118], ["2021-12-15", 0.21], ["2021-12-21", 0.21], ["2021-12-22", 0.156], ["2021-12-25", 0.118],
  ["2021-12-27", 0.116], ["2021-12-28", 0.087], ["2021-12-30", 0.087], ["2022-01-01", 0.047], ["2022-01-02", 0.025],
  ["2022-01-03", -0.06], ["2022-01-05", -0.045], ["2022-01-10", -0.14], ["2022-01-11", -0.12], ["2022-01-16", -0.12],
  ["2022-01-17", 0.013], ["2022-01-19", -0.045], ["2022-01-23", -0.08], ["2022-01-27", 0.088], ["2022-01-30", 0.088],
  ["2022-01-31", 0.11], ["2022-02-01", 0.1], ["2022-02-02", 0.19], ["2022-02-06", 0.2], ["2022-02-08", 0.21],
  ["2022-02-09", 0.205], ["2022-02-10", 0.26], ["2022-02-13", 0.24], ["2022-02-14", 0.105], ["2022-02-15", 0.158],
  ["2022-02-20", 0.3], ["2022-02-21", 0.35], ["2022-02-22", 0.35], ["2022-02-24", 0.393], ["2022-02-26", 0.585],
  ["2022-02-27", 0.89], ["2022-02-28", 0.88], ["2022-03-01", 0.8], ["2022-03-02", 0.65], ["2022-03-03", 0.5],
  ["2022-03-05", 0.318], ["2022-03-07", 0.33], ["2022-03-08", 0.376], ["2022-03-09", 0.372], ["2022-03-12", 0.324],
  ["2022-03-13", 0.122], ["2022-03-14", 0.105], ["2022-03-16", 0.11], ["2022-03-17", 0.15], ["2022-03-19", 0.195],
  ["2022-03-20", 0.197], ["2022-03-21", 0.11], ["2022-03-23", 0.174], ["2022-03-24", 0.17], ["2022-03-27", 0.135],
  ["2022-03-28", 0.135], ["2022-03-29", 0.065], ["2022-03-30", 0.076], ["2022-04-02", 0.08], ["2022-04-04", 0.146],
  ["2022-04-05", 0.186], ["2022-04-06", 0.247], ["2022-04-10", 0.25], ["2022-04-11", 0.33], ["2022-04-12", 0.345],
  ["2022-04-13", 0.357], ["2022-04-16", 0.33], ["2022-04-17", 0.357], ["2022-04-18", 0.352], ["2022-04-19", 0.335],
  ["2022-04-22", 0.314], ["2022-04-24", 0.296], ["2022-04-26", 0.396], ["2022-04-27", 0.396], ["2022-04-30", 0.36],
  ["2022-05-01", 0.296], ["2022-05-03", 0.29], ["2022-05-04", 0.276], ["2022-05-08", 0.325], ["2022-05-09", 0.37],
  ["2022-05-10", 0.395], ["2022-05-11", 0.533], ["2022-05-12", 0.533], ["2022-05-15", 0.325], ["2022-05-16", 0.476],
  ["2022-05-17", 0.525], ["2022-05-19", 0.51], ["2022-05-21", 0.528], ["2022-05-22", 0.548], ["2022-05-24", 0.528],
  ["2022-05-25", 0.458], ["2022-05-29", 0.42], ["2022-05-30", 0.383], ["2022-05-31", 0.378], ["2022-06-02", 0.357],
  ["2022-06-05", 0.366], ["2022-06-07", 0.36], ["2022-06-08", 0.3], ["2022-06-09", 0.31], ["2022-06-11", 0.29],
  ["2022-06-13", 0.293], ["2022-06-14", 0.175], ["2022-06-15", 0.316], ["2022-06-20", 0.2], ["2022-06-21", 0.04],
  ["2022-06-22", 0.023], ["2022-06-25", 0.048], ["2022-07-03", 0.048], ["2022-07-04", -0.045], ["2022-07-05", -0.045],
  ["2022-07-06", -0.015], ["2022-07-10", -0.085], ["2022-07-11", -0.1], ["2022-07-12", -0.195], ["2022-07-13", 0.163],
  ["2022-07-17", 0.15], ["2022-07-18", 0.094], ["2022-07-19", 0.094], ["2022-07-20", 0.135], ["2022-07-23", 0.163],
  ["2022-07-25", 0.297], ["2022-07-26", 0.31], ["2022-07-31", 0.305], ["2022-08-01", 0.383], ["2022-08-02", 0.38],
  ["2022-08-03", 0.29], ["2022-08-06", 0.258], ["2022-08-08", 0.242], ["2022-08-09", 0.285], ["2022-08-10", 0.28],
  ["2022-08-13", 0.293], ["2022-08-14", 0.337], ["2022-08-15", 0.43], ["2022-08-16", 0.857], ["2022-08-18", 0.862],
  ["2022-08-21", 1.186], ["2022-08-22", 1.497], ["2022-08-24", 1.497], ["2022-08-25", 1.446], ["2022-08-27", 1.149],
  ["2022-08-28", 1.246], ["2022-08-30", 1.153], ["2022-09-01", 1.149], ["2022-09-03", 0.93], ["2022-09-05", 1.446],
  ["2022-09-06", 1.91], ["2022-09-07", 1.923], ["2022-09-09", 2.15], ["2022-09-10", 2.355], ["2022-09-12", 2.33],
  ["2022-09-13", 2.348], ["2022-09-14", 2.3], ["2022-09-17", 2.054], ["2022-09-18", 1.81], ["2022-09-19", 0.6],
  ["2022-09-20", 0.47], ["2022-09-21", 0.578], ["2022-09-25", 0.56], ["2022-09-26", 0.393], ["2022-09-27", 0.318],
  ["2022-09-28", 0.428], ["2022-10-01", 0.28], ["2022-10-04", 0.278], ["2022-10-05", 0.052], ["2022-10-08", 0.07],
  ["2022-10-11", 0.035], ["2022-10-16", 0.082], ["2022-10-17", 0.34], ["2022-10-20", 0.347], ["2022-10-23", 0.815],
  ["2022-10-25", 0.653], ["2022-10-26", 0.647], ["2022-10-29", 0.55], ["2022-10-31", 0.15], ["2022-11-01", 0.052],
];

const SERIES_NAMES = ["NYH RBOB", "USGC RBOB", "USGC CBOB", "G3 SUB", "Chicago RBOB", "LA CARBOB Basis", "SF CARBOB"];
const SERIES_DATA = [nyhRbob, usgcRbob, usgcCbob, g3Sub, chicagoRbob, laCarbob, sfCarbob];
const SERIES_COLORS = ["#5B9BD5", "#ED7D31", "#A5A5A5", "#FFC000", "#4472C4", "#FF0000", "#00B050"];

// layout (pixels)
const W = 3840;
const H = 2791;
const FONT = "Lato, 'Open Sans', sans-serif";
const TEXT_COLOR = "#595959";
const GRID_COLOR = "#D9D9D9";
const GRID_LEFT = 278;
const GRID_TOP = 129;
const GRID_BOTTOM = 127;
const PX_PER_DAY = 9.73;
const LEGEND_COLS = [390, 1139, 1885];
const LEGEND_ROWS = [349, 481, 611];

const toTs = (s: string) => {
  const [y, m, d] = s.split("-").map(Number);
  return new Date(y, m - 1, d).getTime();
};

const fmtMoney = (v: number) => {
  const x = Math.round((v + Y_MIN) * 100) / 100;
  return (x < 0 ? "-" : "") + "$" + Math.abs(x).toFixed(2);
};

const fmtMonth = (v: number) => {
  const d = new Date(v);
  return MONTH_NAMES[d.getMonth()] + "-" + String(d.getFullYear()).slice(2);
};

export default function App() {
  const ref = useRef<HTMLDivElement>(null);

  useEffect(() => {
    document.body.style.margin = "0";
    if (!ref.current) return;
    const chart = echarts.init(ref.current, undefined, { renderer: "svg" });

    const xMin = toTs(X_MIN);
    const xMax = toTs(X_MAX);
    const days = Math.round((xMax - xMin) / 86400000);
    const plotWidth = days * PX_PER_DAY;
    const plotHeight = H - GRID_TOP - GRID_BOTTOM;
    const zeroOffset = -((0 - Y_MIN) / (Y_MAX - Y_MIN)) * plotHeight;
    const tickValues = MONTH_TICKS.map(toTs);

    const legendIcon = "path://M6 0H111A6 6 0 0 1 111 12H6A6 6 0 0 1 6 0Z";

    const option: any = {
      animation: false,
      backgroundColor: "#ffffff",
      title: {
        text: TITLE,
        left: 325,
        top: 156,
        padding: 0,
        textStyle: { fontSize: 143, lineHeight: 143, fontWeight: "normal", color: TEXT_COLOR, fontFamily: FONT },
      },
      legend: SERIES_NAMES.map((name, i) => ({
        data: [name],
        left: LEGEND_COLS[i % 3],
        top: LEGEND_ROWS[Math.floor(i / 3)] - 30,
        padding: 0,
        icon: legendIcon,
        itemWidth: 117,
        itemHeight: 12,
        selectedMode: false,
        itemStyle: { borderWidth: 0 },
        textStyle: { fontSize: 56, lineHeight: 60, color: TEXT_COLOR, fontFamily: FONT, padding: [0, 0, 0, 4] },
      })),
      grid: {
        left: GRID_LEFT,
        top: GRID_TOP,
        bottom: GRID_BOTTOM,
        width: plotWidth,
        containLabel: false,
        outerBoundsMode: "none",
      },
      xAxis: [
        {
          type: "value",
          position: "bottom",
          min: xMin,
          max: xMax,
          axisLine: { show: false },
          axisTick: { show: false },
          splitLine: { show: false },
          axisLabel: {
            customValues: tickValues,
            formatter: (v: number) => fmtMonth(v),
            fontSize: 46,
            color: TEXT_COLOR,
            fontFamily: FONT,
            margin: 39,
            hideOverlap: false,
            showMinLabel: true,
            showMaxLabel: true,
          },
        },
        {
          type: "value",
          position: "bottom",
          min: xMin,
          max: xMax,
          offset: zeroOffset,
          axisLine: { show: true, onZero: false, lineStyle: { color: GRID_COLOR, width: 4 } },
          axisTick: { show: true, customValues: tickValues, length: 14, lineStyle: { color: GRID_COLOR, width: 4 } },
          axisLabel: { show: false },
          splitLine: { show: false },
        },
      ],
      yAxis: {
        type: "value",
        min: 0,
        max: Y_MAX - Y_MIN,
        interval: Y_STEP,
        axisLine: { show: false },
        axisTick: { show: false },
        splitLine: { show: true, lineStyle: { color: GRID_COLOR, width: 4 } },
        axisLabel: {
          formatter: (v: number) => fmtMoney(v),
          fontSize: 59,
          color: TEXT_COLOR,
          fontFamily: FONT,
          margin: 60,
        },
      },
      graphic: [
        {
          type: "rect",
          z: 100,
          silent: true,
          shape: { x: 2.5, y: 2.5, width: 3835, height: 2786 },
          style: { fill: "none", stroke: GRID_COLOR, lineWidth: 5 },
        },
      ],
      series: SERIES_NAMES.map((name, i) => ({
        name,
        type: "line",
        xAxisIndex: 0,
        symbol: "none",
        showSymbol: false,
        silent: true,
        color: SERIES_COLORS[i],
        lineStyle: { width: 12, color: SERIES_COLORS[i], cap: "round", join: "round" },
        itemStyle: { color: SERIES_COLORS[i] },
        emphasis: { disabled: true },
        data: SERIES_DATA[i].map(([d, v]) => [toTs(d), v - Y_MIN]),
      })),
    };

    chart.setOption(option);
    return () => {
      chart.dispose();
    };
  }, []);

  return (
    <div
      ref={ref}
      style={{ position: "absolute", left: 0, top: 0, width: W, height: H, background: "#ffffff" }}
    />
  );
}
